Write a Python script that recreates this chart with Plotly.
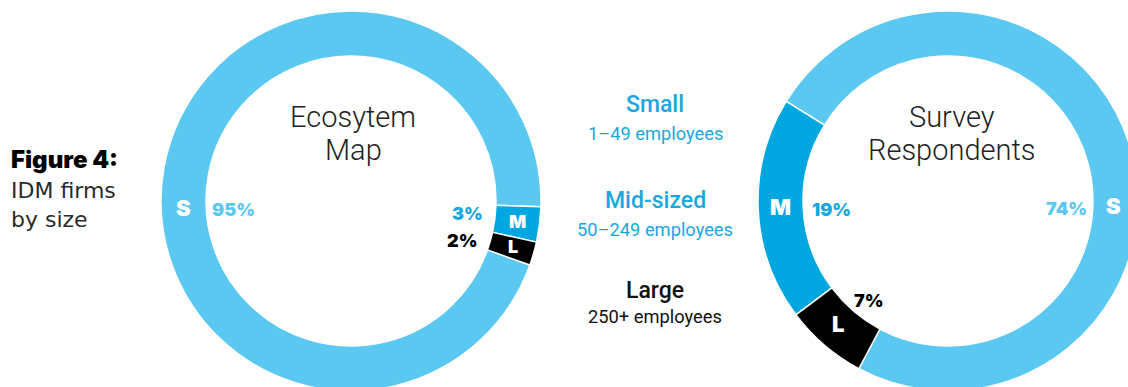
import plotly.graph_objects as go

# ---- data ----
sizes = ["S", "M", "L"]
ecosystem_pct = [95, 3, 2]
survey_pct = [74, 19, 7]
legend_titles = ["Small", "Mid-sized", "Large"]
legend_subs = ["1–49 employees", "50–249 employees", "250+ employees"]
chart_titles = [["Ecosytem", "Map"], ["Survey", "Respondents"]]

# ---- style ----
W, H = 1150, 400
LIGHT = "#5BC8F2"
MID = "#00A6E0"
DARK = "#000000"
TXTBLUE = "#1AA7E0"
colors = [LIGHT, MID, DARK]


def px(x):
    return x / W


def py(y):
    return 1 - y / H


def pie_domain(cx, cy, r):
    return dict(x=[px(cx - r), px(cx + r)], y=[py(cy + r), py(cy - r)])


fig = go.Figure()
fig.add_trace(go.Pie(
    labels=sizes, values=ecosystem_pct, sort=False, direction="clockwise",
    rotation=109.7, hole=0.763, textinfo="none", hoverinfo="label+percent",
    marker=dict(colors=colors, line=dict(color="white", width=1.5)),
    domain=pie_domain(351, 201, 190), showlegend=False,
))
fig.add_trace(go.Pie(
    labels=sizes, values=survey_pct, sort=False, direction="counterclockwise",
    rotation=301.6, hole=0.763, textinfo="none", hoverinfo="label+percent",
    marker=dict(colors=colors, line=dict(color="white", width=1.5)),
    domain=pie_domain(948, 201, 190), showlegend=False,
))

BOLD = "Inter"
ann = []


def add(text, x, y, size, color, family="Roboto", weight=400, xanchor="center"):
    ann.append(dict(text=text, x=px(x), y=py(y), xref="paper", yref="paper",
                    xanchor=xanchor, yanchor="middle", showarrow=False,
                    font=dict(size=size, color=color, family=family, weight=weight)))


# slice letters and percentages
add(sizes[0], 183, 208, 22, "white", BOLD, 900)
add(f"{ecosystem_pct[0]}%", 233, 209, 18, LIGHT, BOLD, 900)
add(f"{ecosystem_pct[1]}%", 467, 213, 18, TXTBLUE, BOLD, 900)
add(sizes[1], 517, 221, 18, "white", BOLD, 900)
add(f"{ecosystem_pct[2]}%", 462, 240, 18, DARK, BOLD, 900)
add(sizes[2], 513, 246, 18, "white", BOLD, 900)

add(sizes[1], 780, 207, 22, "white", BOLD, 900)
add(f"{survey_pct[1]}%", 831, 209, 18, TXTBLUE, BOLD, 900)
add(f"{survey_pct[2]}%", 869, 300, 18, DARK, BOLD, 900)
add(sizes[2], 838, 324, 22, "white", BOLD, 900)
add(f"{survey_pct[0]}%", 1066, 208, 18, LIGHT, BOLD, 900)
add(sizes[0], 1113, 206, 22, "white", BOLD, 900)

# donut titles
for (l1, l2), cx in zip(chart_titles, [353, 952]):
    add(l1, cx, 117, 29, "#222222", "Roboto", 300)
    add(l2, cx, 150, 29, "#222222", "Roboto", 300)

# middle legend
leg_colors = [TXTBLUE, TXTBLUE, "#111111"]
leg_y = [104, 201, 290]
sub_y = [133, 229, 316]
for t, s, c, y1, y2 in zip(legend_titles, legend_subs, leg_colors, leg_y, sub_y):
    add(t, 655, y1, 23, c, "Roboto", 500)
    add(s, 655, y2, 18.3, c, "Roboto", 400)

# figure caption
add("Figure 4:", 9, 159, 24, "#000000", BOLD, 900, xanchor="left")
add("IDM firms", 9, 190, 22, "#2a2a2a", "DejaVu Sans", 400, xanchor="left")
add("by size", 9, 219, 22, "#2a2a2a", "DejaVu Sans", 400, xanchor="left")

fig.update_layout(
    width=W, height=H, margin=dict(l=0, r=0, t=0, b=0),
    paper_bgcolor="white", plot_bgcolor="white",
    annotations=ann, showlegend=False,
)

fig.write_html("out.html", post_script="document.body.style.margin='0';document.body.style.overflow='hidden';")
